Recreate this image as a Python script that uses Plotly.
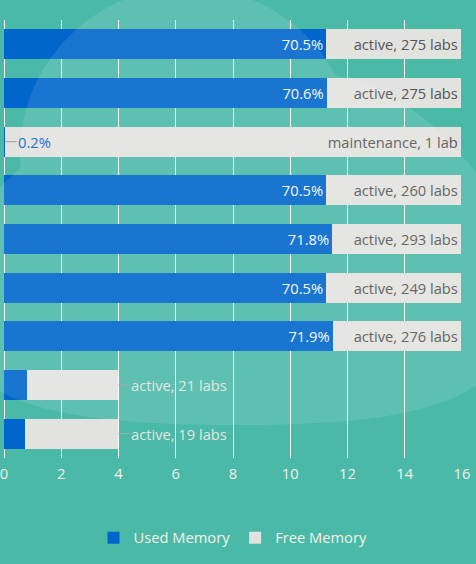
import plotly.graph_objects as go

# ---- data ----
categories = ["Host 1", "Host 2", "Host 3", "Host 4", "Host 5",
              "Host 6", "Host 7", "Host 8", "Host 9"]
used_mem = [11.25, 11.27, 0.032, 11.25, 11.46, 11.25, 11.48, 0.81, 0.74]
total_mem = [15.96, 15.96, 15.96, 15.96, 15.96, 15.96, 15.96, 3.99, 3.99]
status = ["active", "active", "maintenance", "active", "active",
          "active", "active", "active", "active"]
labs = [275, 275, 1, 260, 293, 249, 276, 21, 19]
x_ticks = [0, 2, 4, 6, 8, 10, 12, 14, 16]

free_mem = [t - u for t, u in zip(total_mem, used_mem)]
pct_text = [f"{u / t * 100:.1f}%" for u, t in zip(used_mem, total_mem)]
lab_text = [f"{s}, {n} lab" + ("s" if n != 1 else "") for s, n in zip(status, labs)]

FONT = "Open Sans"
FS = 14.7
BG = "#4BB9A7"
USED = "#0066CC"
FREE = "#E2E2DE"
LIGHT = "#F2F2E8"

used_inside = [t if u > 2 else "" for t, u in zip(pct_text, used_mem)]
free_inside = [t if f > 4 else "" for t, f in zip(lab_text, free_mem)]

fig = go.Figure()
fig.add_trace(go.Bar(
    name="Used Memory", y=categories, x=used_mem, orientation="h",
    marker=dict(color=USED, line=dict(width=0)),
    text=used_inside, textposition="inside", insidetextanchor="end",
    textfont=dict(family=FONT, size=FS, color="#F7F7F7"),
    hoverinfo="skip",
))
fig.add_trace(go.Bar(
    name="Free Memory", y=categories, x=free_mem, orientation="h",
    marker=dict(color=FREE, line=dict(width=0)),
    text=free_inside, textposition="inside", insidetextanchor="end",
    textfont=dict(family=FONT, size=FS, color="#555555"),
    hoverinfo="skip",
))

annotations = []
for c, u, t, f, p, lt in zip(categories, used_mem, total_mem, free_mem, pct_text, lab_text):
    if u <= 2 and f > 4:
        annotations.append(dict(x=u, y=c, xref="x", yref="y", text=p,
                                showarrow=True, arrowhead=0, arrowwidth=1,
                                arrowcolor="#A99CA3", ax=12, ay=0,
                                xanchor="left", borderpad=0,
                                font=dict(family=FONT, size=FS, color="#1A73D0")))
    if f <= 4:
        annotations.append(dict(x=t, y=c, xref="x", yref="y", text=lt,
                                showarrow=True, arrowhead=0, arrowwidth=1,
                                arrowcolor="#B2A3AA", ax=12, ay=0,
                                xanchor="left", borderpad=0,
                                font=dict(family=FONT, size=FS, color="#E4E6E0")))

# ---- decorative light blobs (pixel geometry -> paper coords) ----
L_M, T_M, W_P, H_P = 4, 20, 458, 438


def P(px, py):
    return f"{(px - L_M) / W_P:.4f},{(T_M + H_P - py) / H_P:.4f}"


def circle_path(cx, cy, r):
    k = 0.5523 * r
    return (f"M{P(cx, cy - r)} C{P(cx + k, cy - r)} {P(cx + r, cy - k)} {P(cx + r, cy)} "
            f"C{P(cx + r, cy + k)} {P(cx + k, cy + r)} {P(cx, cy + r)} "
            f"C{P(cx - k, cy + r)} {P(cx - r, cy + k)} {P(cx - r, cy)} "
            f"C{P(cx - r, cy - k)} {P(cx - k, cy - r)} {P(cx, cy - r)} Z ")


blob = (f"M{P(320, 75)} C{P(410, 75)} {P(520, 193)} {P(520, 290)} "
        f"C{P(520, 391)} {P(450, 425)} {P(240, 425)} "
        f"C{P(22.5, 425)} {P(-50, 394)} {P(-50, 300)} "
        f"C{P(-50, 176)} {P(116, 75)} {P(320, 75)} Z")

shapes = [dict(type="path", xref="paper", yref="paper",
               path=circle_path(188, 155, 168) + blob,
               fillcolor="rgba(255,255,255,0.1)", fillrule="nonzero",
               line=dict(width=0), layer="above")]

fig.update_layout(
    width=476, height=564,
    margin=dict(l=L_M, r=476 - L_M - W_P, t=T_M, b=564 - T_M - H_P, autoexpand=False),
    paper_bgcolor=BG, plot_bgcolor=BG,
    barmode="stack", bargap=0.38,
    font=dict(family=FONT, size=FS, color=LIGHT),
    xaxis=dict(range=[0, 16], tickvals=x_ticks, showgrid=True, gridcolor="#FFFFFF",
               gridwidth=1, zeroline=True, zerolinecolor="#FFFFFF", zerolinewidth=1,
               showline=False, ticks="", ticklabeloverflow="allow", automargin=False,
               ticklabelstandoff=5,
               tickfont=dict(family=FONT, size=FS, color=LIGHT)),
    yaxis=dict(autorange="reversed", showticklabels=False, showgrid=False,
               zeroline=False, showline=False, ticks="", automargin=False),
    legend=dict(orientation="h", x=0.5, xanchor="center", y=-0.183, yanchor="middle",
                traceorder="normal", itemwidth=30,
                font=dict(family=FONT, size=FS, color=LIGHT),
                bgcolor="rgba(0,0,0,0)"),
    annotations=annotations,
    shapes=shapes,
)

fig.write_html("out.html")
